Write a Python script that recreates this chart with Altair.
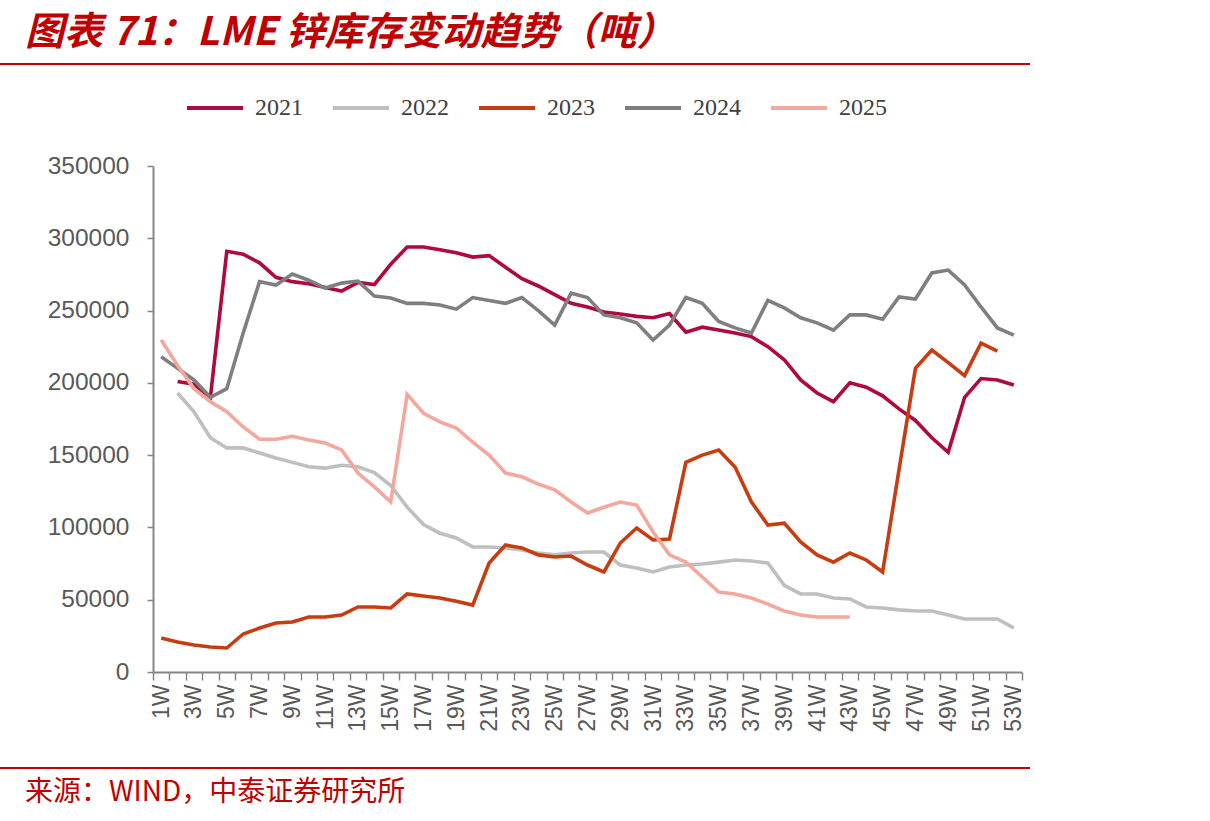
import altair as alt
import pandas as pd

weeks = list(range(1, 54))
years = ["2021", "2022", "2023", "2024", "2025"]
colors = ["#AE0A3E", "#BFBFBF", "#C83C12", "#7F7F7F", "#F4A79D"]

y2021 = [None, 201000, 199000, 190000, 291000, 289000, 283000, 273000, 270000, 268500,
         266000, 263500, 269500, 268000, 282000, 294000, 294000, 292000, 290000, 287000,
         288000, 280000, 272000, 267000, 261000, 255000, 252500, 249000, 247600, 246000,
         245000, 248000, 235000, 238500, 236500, 234500, 232000, 225000, 216000, 202000,
         193000, 187000, 200000, 197000, 191000, 182000, 174000, 162000, 152000, 190000,
         203000, 202000, 198500]
y2022 = [None, 193000, 180000, 162000, 155000, 155000, 151500, 148000, 145000, 142000,
         141000, 143000, 142000, 138000, 129000, 114000, 102000, 96000, 92700, 86500,
         86500, 85800, 84400, 82300, 81000, 82300, 83000, 83000, 74000, 72000,
         69200, 72600, 74000, 74700, 76000, 77500, 76800, 75400, 60000, 54000,
         54000, 51200, 50500, 45000, 44300, 43000, 42200, 42200, 39400, 36700,
         36700, 36700, 30400]
y2023 = [23500, 20800, 18700, 17300, 16600, 26300, 30400, 33900, 34600, 38000,
         38000, 39400, 45000, 45000, 44300, 54000, 52600, 51200, 49000, 46300,
         75400, 87800, 85800, 81000, 79500, 80200, 74000, 69200, 89200, 99600,
         91300, 92000, 145000, 150000, 153600, 141800, 117600, 101700, 103000, 90000,
         81000, 76000, 82300, 77500, 69200, 140000, 210000, 222700, 214000, 205000,
         227500, 222000, None]
y2024 = [218000, 210000, 202000, 190000, 196000, 234500, 270000, 267700, 275300, 271000,
         265600, 269000, 270400, 260000, 258700, 255000, 255000, 253800, 251000, 259000,
         257000, 255000, 259000, 250000, 240000, 262000, 259000, 247000, 245000, 241500,
         229600, 240000, 259000, 255000, 242500, 238000, 234500, 257000, 251800, 245000,
         241500, 236500, 247000, 247000, 244000, 259400, 258000, 276000, 278000, 267700,
         252500, 238000, 233000]
y2025 = [229600, 212000, 196000, 187000, 180000, 169500, 161000, 161000, 163000, 160500,
         158400, 153600, 137600, 128000, 117600, 192000, 179000, 173000, 168800, 159000,
         150000, 137600, 135000, 130000, 126000, 117600, 110000, 114000, 117600, 115500,
         96800, 81000, 76000, 65700, 55300, 54000, 51200, 47000, 42200, 39400,
         38000, 38000, 38000, None, None, None, None, None, None, None,
         None, None, None]

y_ticks = [0, 50000, 100000, 150000, 200000, 250000, 300000, 350000]
title_text = "图表 71：LME 锌库存变动趋势（吨）"
source_text = "来源：WIND，中泰证券研究所"

series = dict(zip(years, [y2021, y2022, y2023, y2024, y2025]))
rows = []
for yr in years:
    for w, v in zip(weeks, series[yr]):
        if v is not None:
            rows.append({"wk": w, "v": v, "year": yr})
df = pd.DataFrame(rows)

axis_color = "#868686"
label_color = "#595959"

lines = alt.Chart(df).mark_line(strokeWidth=3.6).encode(
    x=alt.X("wk:O", bandPosition=0.5,
            scale=alt.Scale(type="band", paddingInner=0, paddingOuter=0),
            axis=alt.Axis(title=None, labelAngle=270,
                          labelExpr="datum.value % 2 == 1 ? datum.value + 'W' : ''",
                          tickBand="extent", labelOverlap=False, domainColor=axis_color,
                          domainWidth=2, tickColor=axis_color, tickWidth=1.5, tickSize=8,
                          labelPadding=4, labelFont="Liberation Sans", labelFontSize=23,
                          labelColor=label_color)),
    y=alt.Y("v:Q", scale=alt.Scale(domain=[0, 350000], nice=False),
            axis=alt.Axis(title=None, values=y_ticks, format="d", grid=False,
                          domainColor=axis_color, domainWidth=2, tickColor=axis_color,
                          tickWidth=1.5, tickSize=6, labelPadding=18,
                          labelFont="Liberation Sans", labelFontSize=24.5,
                          labelColor=label_color)),
    color=alt.Color("year:N", scale=alt.Scale(domain=years, range=colors),
                    legend=alt.Legend(title=None, orient="none", legendX=32, legendY=-88,
                                      direction="horizontal", symbolType="stroke",
                                      symbolSize=3136, symbolStrokeWidth=4,
                                      labelFont="Liberation Serif", labelFontSize=24,
                                      labelColor="#404040", labelOffset=10,
                                      columnPadding=22, padding=0)),
    detail="year:N",
)

red = "#C00000"
title_mark = alt.Chart(pd.DataFrame({"t": [title_text]})).mark_text(
    align="left", baseline="middle", font="Noto Sans CJK SC", fontSize=39,
    fontWeight="bold", fontStyle="italic", color=red
).encode(text="t:N", x=alt.value(-128), y=alt.value(-133))

source_mark = alt.Chart(pd.DataFrame({"t": [source_text]})).mark_text(
    align="left", baseline="middle", font="Noto Sans CJK SC", fontSize=28, color=red
).encode(text="t:N", x=alt.value(-128), y=alt.value(627))

rule_top = alt.Chart(pd.DataFrame({"a": [0]})).mark_rule(color=red, strokeWidth=2).encode(
    x=alt.value(-153), x2=alt.value(877), y=alt.value(-102))
rule_bottom = alt.Chart(pd.DataFrame({"a": [0]})).mark_rule(color=red, strokeWidth=2).encode(
    x=alt.value(-153), x2=alt.value(877), y=alt.value(602))

chart = alt.layer(lines, title_mark, source_mark, rule_top, rule_bottom).properties(
    width=869, height=506,
    autosize=alt.AutoSizeParams(type="none"),
    padding={"left": 153, "top": 166, "right": 188, "bottom": 149},
    background="white",
).configure_view(stroke=None)

chart.save("out.html", embed_options={"renderer": "svg", "actions": False})
